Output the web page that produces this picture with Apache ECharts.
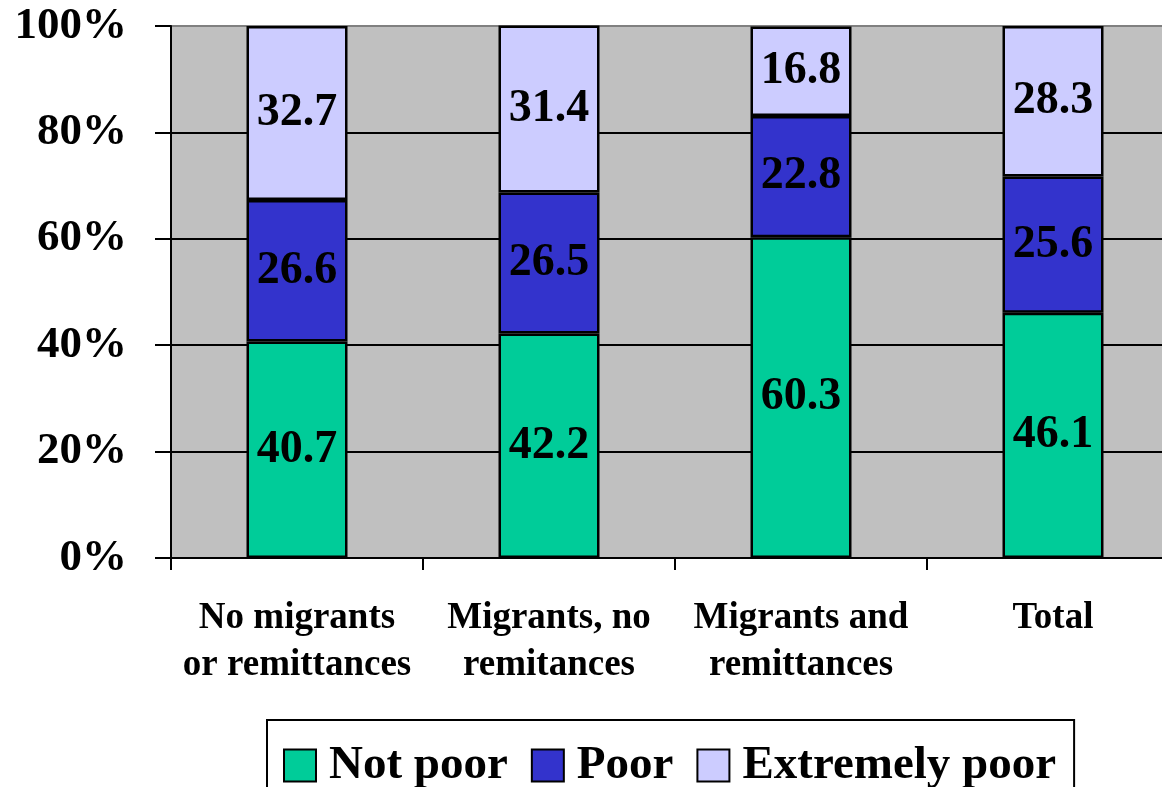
<!DOCTYPE html>
<html>
<head>
<meta charset="utf-8">
<script src="https://cdn.jsdelivr.net/npm/echarts@6/dist/echarts.min.js"></script>
<style>
html,body{margin:0;padding:0;background:#fff;}
#chart{width:1162px;height:787px;}
</style>
</head>
<body>
<div id="chart"></div>
<script>
const categories = ['No migrants\nor remittances', 'Migrants, no\nremitances', 'Migrants and\nremittances', 'Total'];
const notPoor = [40.7, 42.2, 60.3, 46.1];
const poor = [26.6, 26.5, 22.8, 25.6];
const extremelyPoor = [32.7, 31.4, 16.8, 28.3];
const seriesNames = ['Not poor', 'Poor', 'Extremely poor'];
const seriesColors = ['#00CC99', '#3333CC', '#CCCCFF'];

const FONT = '"Liberation Serif", "Times New Roman", serif';
const chart = echarts.init(document.getElementById('chart'));

function mk(name, data, color) {
  return {
    name: name,
    type: 'bar',
    stack: 'total',
    data: data,
    barWidth: 101,
    itemStyle: { color: color, borderColor: '#000', borderWidth: 2.5 },
    label: {
      show: true,
      position: 'inside',
      formatter: p => p.value.toFixed(1),
      color: '#000',
      fontFamily: FONT,
      fontWeight: 'bold',
      fontSize: 46
    }
  };
}

chart.setOption({
  animation: false,
  backgroundColor: '#fff',
  grid: {
    left: 171, top: 26, width: 1008, height: 532,
    outerBoundsMode: 'none',
    containLabel: false,
    show: true, backgroundColor: '#C0C0C0', borderColor: '#808080', borderWidth: 2
  },
  legend: {
    data: seriesNames,
    left: 267, top: 720,
    orient: 'horizontal',
    icon: 'rect',
    itemWidth: 32, itemHeight: 32,
    itemGap: 23,
    padding: [22, 18, 30, 16],
    borderColor: '#000', borderWidth: 2,
    textStyle: {
      fontFamily: FONT, fontWeight: 'bold', fontSize: 47, color: '#000',
      lineHeight: 32, padding: [0, 0, 0, 8]
    }
  },
  xAxis: {
    type: 'category',
    data: categories,
    axisLine: { show: true, lineStyle: { color: '#000', width: 2 } },
    axisTick: { show: true, length: 12, lineStyle: { color: '#000', width: 2 } },
    axisLabel: {
      margin: 37, color: '#000', fontFamily: FONT, fontWeight: 'bold',
      fontSize: 37, lineHeight: 47, interval: 0
    },
    splitLine: { show: false }
  },
  yAxis: {
    type: 'value',
    min: 0, max: 100, interval: 20,
    axisLine: { show: true, lineStyle: { color: '#000', width: 2 } },
    axisTick: { show: true, length: 16, lineStyle: { color: '#000', width: 2 } },
    axisLabel: {
      margin: 44, color: '#000', fontFamily: FONT, fontWeight: 'bold', fontSize: 45,
      formatter: v => v + '%'
    },
    splitLine: { show: true, showMaxLine: false, lineStyle: { color: '#000', width: 2 } }
  },
  series: [
    mk(seriesNames[0], notPoor, seriesColors[0]),
    mk(seriesNames[1], poor, seriesColors[1]),
    mk(seriesNames[2], extremelyPoor, seriesColors[2])
  ]
});
</script>
</body>
</html>
